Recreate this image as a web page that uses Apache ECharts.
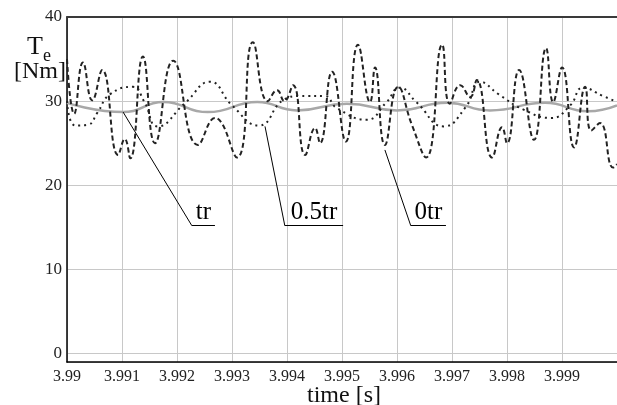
<!DOCTYPE html>
<html>
<head>
<meta charset="utf-8">
<script src="https://cdn.jsdelivr.net/npm/echarts@6/dist/echarts.min.js"></script>
<style>
  html, body { margin: 0; padding: 0; background: #fff; }
  #chart { width: 617px; height: 405px; }
</style>
</head>
<body>
<div id="chart"></div>
<script>
// torque traces, [time s, Te Nm]
var trData = [
  [3.99000, 29.8], [3.99102, 28.7], [3.99175, 29.9], [3.99256, 28.7],
  [3.99346, 29.9], [3.99418, 28.9], [3.99509, 29.7], [3.99600, 28.9],
  [3.99691, 29.8], [3.99769, 28.9], [3.99869, 29.8], [3.99947, 28.8],
  [4.00000, 29.5]
];
var halfTrData = [
  [3.99000, 30.0], [3.99015, 27.1], [3.99038, 27.2], [3.99055, 28.6],
  [3.99078, 30.8], [3.99120, 31.7], [3.99140, 30.0], [3.99165, 27.0],
  [3.99215, 29.8], [3.99260, 32.3], [3.99300, 29.5], [3.99349, 27.1],
  [3.99395, 30.2], [3.99424, 30.6], [3.99469, 30.6], [3.99490, 29.2],
  [3.99545, 27.8], [3.99580, 29.8], [3.99605, 31.6], [3.99635, 29.9],
  [3.99685, 27.0], [3.99725, 29.3], [3.99751, 32.3], [3.99785, 30.8],
  [3.99830, 29.0], [3.99880, 28.0], [3.99915, 29.5], [3.99938, 31.6],
  [3.99975, 30.6], [4.00000, 29.9]
];
var zeroTrData = [
  [3.99000, 35.0], [3.99013, 28.5], [3.99029, 34.6], [3.99046, 30.1],
  [3.99064, 33.7], [3.99093, 23.6], [3.99105, 25.5], [3.99115, 23.2],
  [3.99138, 35.3], [3.99160, 25.0], [3.99193, 34.8], [3.99238, 24.8],
  [3.99269, 28.0], [3.99309, 23.3], [3.99338, 37.0], [3.99365, 30.0],
  [3.99382, 31.3], [3.99395, 30.0], [3.99411, 31.9], [3.99433, 23.6],
  [3.99451, 26.8], [3.99460, 25.0], [3.99482, 33.5], [3.99507, 25.2],
  [3.99529, 36.7], [3.99551, 29.9], [3.99560, 34.0], [3.99578, 24.8],
  [3.99602, 31.7], [3.99627, 27.2], [3.99653, 23.3], [3.99682, 36.7],
  [3.99696, 29.7], [3.99715, 31.9], [3.99733, 30.5], [3.99745, 32.5],
  [3.99773, 23.3], [3.99791, 26.9], [3.99800, 25.0], [3.99822, 33.7],
  [3.99849, 25.4], [3.99871, 36.3], [3.99884, 29.9], [3.99900, 34.0],
  [3.99922, 24.5], [3.99942, 31.7], [3.99953, 26.5], [3.99969, 27.4],
  [3.99993, 22.1], [4.00000, 22.5]
];

// labels: name, point on trace, knee of leader, end of underline
var labelNames = ['tr', '0.5tr', '0tr'];
var labelTargets = [[3.99102, 28.7], [3.99360, 27.0], [3.99578, 24.2]];
var labelKnees = [[3.99227, 15.2], [3.99396, 15.2], [3.99625, 15.2]];
var labelEnds = [[3.99269, 15.2], [3.99502, 15.2], [3.99689, 15.2]];

var serif = 'Liberation Serif';

var leaderLines = [];
var labelPoints = [];
for (var i = 0; i < labelNames.length; i++) {
    leaderLines.push([{ coord: labelTargets[i] }, { coord: labelKnees[i] }]);
    leaderLines.push([{ coord: labelKnees[i] }, { coord: labelEnds[i] }]);
    labelPoints.push({
        coord: [(labelKnees[i][0] + labelEnds[i][0]) / 2, labelKnees[i][1]],
        value: labelNames[i]
    });
}

var myChart = echarts.init(document.getElementById('chart'));

var option = {
    animation: false,
    grid: { left: 67, right: 0, top: 17, bottom: 43 },
    xAxis: [{
        type: 'value',
        min: 3.99,
        max: 4.0,
        interval: 0.001,
        axisLine: { onZero: false, lineStyle: { color: '#000', width: 1.5 } },
        axisTick: { show: false },
        axisLabel: {
            margin: 7,
            showMaxLabel: false,
            fontFamily: serif,
            fontSize: 16,
            color: '#222',
            formatter: function (v) { return String(+v.toFixed(3)); }
        },
        splitLine: { lineStyle: { color: '#c8c8c8', width: 1 } }
    }, {
        type: 'value',
        position: 'top',
        min: 3.99,
        max: 4.0,
        axisLine: { show: true, onZero: false, lineStyle: { color: '#3a3a3a', width: 2 } },
        axisTick: { show: false },
        axisLabel: { show: false },
        splitLine: { show: false }
    }],
    yAxis: {
        type: 'value',
        min: -1,
        max: 40,
        splitNumber: 4,
        axisLine: { show: true, onZero: false, lineStyle: { color: '#000', width: 1.5 } },
        axisTick: { show: false },
        axisLabel: {
            margin: 5,
            showMinLabel: false,
            fontFamily: serif,
            fontSize: 17,
            color: '#222'
        },
        splitLine: { lineStyle: { color: '#c8c8c8', width: 1 } }
    },
    graphic: [
        { type: 'text', left: 27, top: 34, style: { text: 'T', font: '26px ' + serif, fill: '#111' } },
        { type: 'text', left: 43, top: 47, style: { text: 'e', font: '18px ' + serif, fill: '#111' } },
        { type: 'text', left: 14, top: 60, style: { text: '[Nm]', font: '24px ' + serif, fill: '#111' } },
        { type: 'text', left: 307, top: 384, style: { text: 'time [s]', font: '24px ' + serif, fill: '#111' } }
    ],
    series: [
        {
            name: 'tr',
            type: 'line',
            smooth: true,
            showSymbol: false,
            data: trData,
            lineStyle: { color: '#a8a8a8', width: 2.5 },
            z: 2
        },
        {
            name: '0.5tr',
            type: 'line',
            smooth: true,
            showSymbol: false,
            data: halfTrData,
            lineStyle: { color: '#222', width: 2, type: [2, 4] },
            z: 3
        },
        {
            name: '0tr',
            type: 'line',
            smooth: true,
            showSymbol: false,
            data: zeroTrData,
            lineStyle: { color: '#222', width: 2, type: [5, 3] },
            z: 3
        },
        {
            name: 'labels',
            type: 'line',
            data: [],
            markLine: {
                silent: true,
                symbol: 'none',
                label: { show: false },
                lineStyle: { color: '#000', width: 1, type: 'solid' },
                data: leaderLines
            },
            markPoint: {
                silent: true,
                symbol: 'circle',
                symbolSize: 0,
                label: {
                    show: true,
                    position: 'top',
                    distance: 1,
                    fontFamily: serif,
                    fontSize: 25,
                    color: '#000',
                    formatter: function (p) { return p.value; }
                },
                data: labelPoints
            },
            z: 4
        }
    ]
};

myChart.setOption(option);
</script>
</body>
</html>
